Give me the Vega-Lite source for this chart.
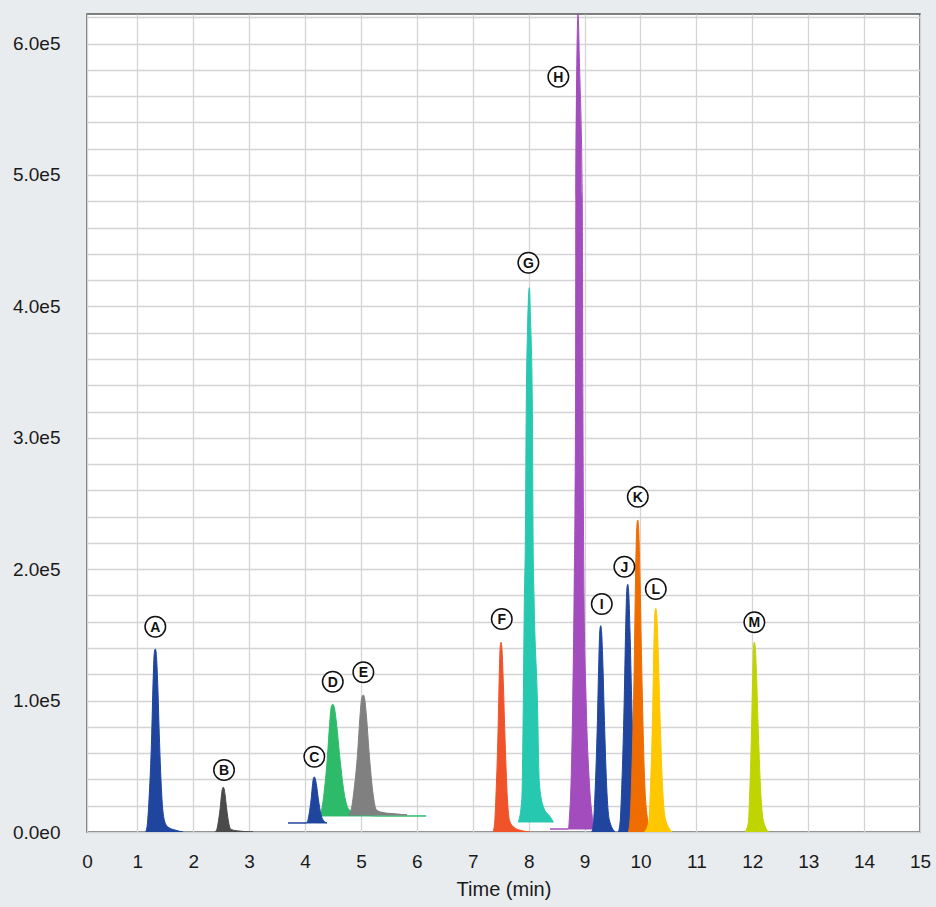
{
  "$schema": "https://vega.github.io/schema/vega-lite/v6.json",
  "width": 833,
  "height": 818,
  "autosize": {"type": "none"},
  "padding": {"left": 87, "top": 14, "right": 16, "bottom": 75},
  "background": "#e9ecef",
  "config": {
    "view": {"fill": "white", "stroke": "#555555", "strokeWidth": 1.5},
    "font": "Liberation Sans",
    "axis": {
      "ticks": false,
      "domain": false,
      "grid": true,
      "gridColor": "#d4d4d4",
      "gridWidth": 1.3,
      "labelFont": "Liberation Sans",
      "labelFontSize": 19,
      "labelColor": "#1a1a1a",
      "labelOverlap": false,
      "labelFlush": false,
      "titleFont": "Liberation Sans",
      "titleFontSize": 20,
      "titleFontWeight": "normal",
      "titleColor": "#1a1a1a"
    }
  },
  "datasets": {
    "peaks": [
      {"p":"A","t":1.150,"v":0,"b":0},{"p":"A","t":1.182,"v":7000,"b":0},{"p":"A","t":1.209,"v":24400,"b":0},{"p":"A","t":1.258,"v":75200,"b":0},{"p":"A","t":1.281,"v":112800,"b":0},{"p":"A","t":1.304,"v":136500,"b":0},{"p":"A","t":1.322,"v":139300,"b":0},{"p":"A","t":1.340,"v":135100,"b":0},{"p":"A","t":1.365,"v":112800,"b":0},{"p":"A","t":1.392,"v":75200,"b":0},{"p":"A","t":1.442,"v":24400,"b":0},{"p":"A","t":1.487,"v":8400,"b":0},{"p":"A","t":1.549,"v":3800,"b":0},{"p":"A","t":1.674,"v":1500,"b":0},{"p":"A","t":1.818,"v":0,"b":0},
      {"p":"B","t":2.388,"v":0,"b":0},{"p":"B","t":2.420,"v":1700,"b":0},{"p":"B","t":2.442,"v":5950,"b":0},{"p":"B","t":2.483,"v":18400,"b":0},{"p":"B","t":2.504,"v":27500,"b":0},{"p":"B","t":2.524,"v":33300,"b":0},{"p":"B","t":2.538,"v":34000,"b":0},{"p":"B","t":2.552,"v":33000,"b":0},{"p":"B","t":2.572,"v":27500,"b":0},{"p":"B","t":2.596,"v":18400,"b":0},{"p":"B","t":2.639,"v":5950,"b":0},{"p":"B","t":2.673,"v":2000,"b":0},{"p":"B","t":2.766,"v":1000,"b":0},{"p":"B","t":3.070,"v":0,"b":0},
      {"p":"D","t":4.215,"v":12200,"b":12200},{"p":"D","t":4.245,"v":12200,"b":12200},{"p":"D","t":4.295,"v":16450,"b":12200},{"p":"D","t":4.333,"v":27075,"b":12200},{"p":"D","t":4.402,"v":58100,"b":12200},{"p":"D","t":4.438,"v":81050,"b":12200},{"p":"D","t":4.470,"v":95500,"b":12200},{"p":"D","t":4.496,"v":97200,"b":12200},{"p":"D","t":4.524,"v":94650,"b":12200},{"p":"D","t":4.567,"v":81050,"b":12200},{"p":"D","t":4.619,"v":58100,"b":12200},{"p":"D","t":4.710,"v":27075,"b":12200},{"p":"D","t":4.782,"v":17300,"b":12200},{"p":"D","t":4.912,"v":14000,"b":12200},{"p":"D","t":5.342,"v":12200,"b":12200},{"p":"D","t":6.165,"v":12200,"b":12200},
      {"p":"E","t":4.775,"v":12950,"b":12950},{"p":"E","t":4.828,"v":17500,"b":12950},{"p":"E","t":4.868,"v":28930,"b":12950},{"p":"E","t":4.944,"v":62250,"b":12950},{"p":"E","t":4.981,"v":86900,"b":12950},{"p":"E","t":5.016,"v":102420,"b":12950},{"p":"E","t":5.043,"v":104250,"b":12950},{"p":"E","t":5.066,"v":101510,"b":12950},{"p":"E","t":5.101,"v":86900,"b":12950},{"p":"E","t":5.143,"v":62250,"b":12950},{"p":"E","t":5.217,"v":28930,"b":12950},{"p":"E","t":5.275,"v":17000,"b":12950},{"p":"E","t":5.377,"v":15000,"b":12950},{"p":"E","t":5.610,"v":13800,"b":12950},{"p":"E","t":5.825,"v":12950,"b":12950},
      {"p":"C","t":3.696,"v":6850,"b":6850},{"p":"C","t":4.018,"v":6850,"b":6850},{"p":"C","t":4.048,"v":8600,"b":6850},{"p":"C","t":4.070,"v":12975,"b":6850},{"p":"C","t":4.111,"v":25750,"b":6850},{"p":"C","t":4.132,"v":35200,"b":6850},{"p":"C","t":4.152,"v":41150,"b":6850},{"p":"C","t":4.166,"v":41850,"b":6850},{"p":"C","t":4.182,"v":40800,"b":6850},{"p":"C","t":4.207,"v":35200,"b":6850},{"p":"C","t":4.236,"v":25750,"b":6850},{"p":"C","t":4.287,"v":12975,"b":6850},{"p":"C","t":4.327,"v":8950,"b":6850},{"p":"C","t":4.394,"v":6850,"b":6850},
      {"p":"F","t":7.363,"v":0,"b":0},{"p":"F","t":7.392,"v":7220,"b":0},{"p":"F","t":7.413,"v":25270,"b":0},{"p":"F","t":7.453,"v":77980,"b":0},{"p":"F","t":7.473,"v":116960,"b":0},{"p":"F","t":7.492,"v":141500,"b":0},{"p":"F","t":7.506,"v":144400,"b":0},{"p":"F","t":7.521,"v":140070,"b":0},{"p":"F","t":7.544,"v":116960,"b":0},{"p":"F","t":7.572,"v":77980,"b":0},{"p":"F","t":7.620,"v":25270,"b":0},{"p":"F","t":7.658,"v":8660,"b":0},{"p":"F","t":7.739,"v":3500,"b":0},{"p":"F","t":7.864,"v":1200,"b":0},{"p":"F","t":8.025,"v":0,"b":0},
      {"p":"G","t":7.816,"v":7610,"b":7610},{"p":"G","t":7.877,"v":24350,"b":7610},{"p":"G","t":7.905,"v":100450,"b":7610},{"p":"G","t":7.923,"v":176550,"b":7610},{"p":"G","t":7.941,"v":222210,"b":7610},{"p":"G","t":7.957,"v":323400,"b":7610},{"p":"G","t":7.980,"v":382000,"b":7610},{"p":"G","t":8.012,"v":414200,"b":7610},{"p":"G","t":8.034,"v":389600,"b":7610},{"p":"G","t":8.066,"v":323400,"b":7610},{"p":"G","t":8.079,"v":222210,"b":7610},{"p":"G","t":8.097,"v":176550,"b":7610},{"p":"G","t":8.156,"v":100450,"b":7610},{"p":"G","t":8.191,"v":37290,"b":7610},{"p":"G","t":8.263,"v":19250,"b":7610},{"p":"G","t":8.383,"v":11640,"b":7610},{"p":"G","t":8.442,"v":7610,"b":7610},
      {"p":"H","t":8.383,"v":2280,"b":2280},{"p":"H","t":8.710,"v":2280,"b":2280},{"p":"H","t":8.732,"v":12940,"b":2280},{"p":"H","t":8.758,"v":37290,"b":2280},{"p":"H","t":8.789,"v":100450,"b":2280},{"p":"H","t":8.812,"v":176550,"b":2280},{"p":"H","t":8.839,"v":328750,"b":2280},{"p":"H","t":8.844,"v":480950,"b":2280},{"p":"H","t":8.862,"v":587500,"b":2280},{"p":"H","t":8.884,"v":622500,"b":2280},{"p":"H","t":8.907,"v":587500,"b":2280},{"p":"H","t":8.959,"v":480950,"b":2280},{"p":"H","t":8.970,"v":328750,"b":2280},{"p":"H","t":8.991,"v":176550,"b":2280},{"p":"H","t":9.027,"v":100450,"b":2280},{"p":"H","t":9.086,"v":37290,"b":2280},{"p":"H","t":9.134,"v":12940,"b":2280},{"p":"H","t":9.170,"v":2280,"b":2280},{"p":"H","t":9.188,"v":2280,"b":2280},
      {"p":"I","t":9.129,"v":0,"b":0},{"p":"I","t":9.161,"v":7850,"b":0},{"p":"I","t":9.185,"v":27475,"b":0},{"p":"I","t":9.230,"v":84780,"b":0},{"p":"I","t":9.253,"v":127170,"b":0},{"p":"I","t":9.274,"v":153860,"b":0},{"p":"I","t":9.290,"v":157000,"b":0},{"p":"I","t":9.305,"v":152290,"b":0},{"p":"I","t":9.328,"v":127170,"b":0},{"p":"I","t":9.355,"v":84780,"b":0},{"p":"I","t":9.404,"v":27475,"b":0},{"p":"I","t":9.442,"v":9420,"b":0},{"p":"I","t":9.546,"v":0,"b":0},
      {"p":"J","t":9.605,"v":0,"b":0},{"p":"J","t":9.639,"v":9425,"b":0},{"p":"J","t":9.664,"v":32990,"b":0},{"p":"J","t":9.710,"v":101790,"b":0},{"p":"J","t":9.734,"v":152690,"b":0},{"p":"J","t":9.756,"v":184730,"b":0},{"p":"J","t":9.773,"v":188500,"b":0},{"p":"J","t":9.789,"v":182850,"b":0},{"p":"J","t":9.813,"v":152690,"b":0},{"p":"J","t":9.842,"v":101790,"b":0},{"p":"J","t":9.894,"v":32990,"b":0},{"p":"J","t":9.934,"v":11310,"b":0},{"p":"J","t":10.011,"v":0,"b":0},
      {"p":"K","t":9.784,"v":0,"b":0},{"p":"K","t":9.818,"v":11870,"b":0},{"p":"K","t":9.843,"v":41550,"b":0},{"p":"K","t":9.889,"v":128210,"b":0},{"p":"K","t":9.912,"v":192320,"b":0},{"p":"K","t":9.935,"v":232680,"b":0},{"p":"K","t":9.952,"v":237430,"b":0},{"p":"K","t":9.968,"v":230310,"b":0},{"p":"K","t":9.992,"v":192320,"b":0},{"p":"K","t":10.021,"v":128210,"b":0},{"p":"K","t":10.072,"v":41550,"b":0},{"p":"K","t":10.113,"v":14250,"b":0},{"p":"K","t":10.190,"v":0,"b":0},
      {"p":"L","t":10.073,"v":0,"b":0},{"p":"L","t":10.152,"v":8510,"b":0},{"p":"L","t":10.175,"v":29790,"b":0},{"p":"L","t":10.218,"v":91930,"b":0},{"p":"L","t":10.238,"v":137890,"b":0},{"p":"L","t":10.258,"v":166840,"b":0},{"p":"L","t":10.274,"v":170240,"b":0},{"p":"L","t":10.291,"v":165130,"b":0},{"p":"L","t":10.317,"v":137890,"b":0},{"p":"L","t":10.347,"v":91930,"b":0},{"p":"L","t":10.401,"v":29790,"b":0},{"p":"L","t":10.444,"v":10210,"b":0},{"p":"L","t":10.565,"v":0,"b":0},
      {"p":"M","t":11.871,"v":0,"b":0},{"p":"M","t":11.930,"v":7220,"b":0},{"p":"M","t":11.950,"v":25260,"b":0},{"p":"M","t":11.987,"v":77950,"b":0},{"p":"M","t":12.007,"v":116930,"b":0},{"p":"M","t":12.024,"v":141470,"b":0},{"p":"M","t":12.037,"v":144360,"b":0},{"p":"M","t":12.054,"v":140030,"b":0},{"p":"M","t":12.078,"v":116930,"b":0},{"p":"M","t":12.107,"v":77950,"b":0},{"p":"M","t":12.158,"v":25260,"b":0},{"p":"M","t":12.198,"v":8660,"b":0},{"p":"M","t":12.292,"v":0,"b":0}
    ],
    "labels": [
      {"p":"A","t":1.322,"v":156230},
      {"p":"B","t":2.551,"v":47180},
      {"p":"C","t":4.166,"v":57300},
      {"p":"D","t":4.496,"v":114380},
      {"p":"E","t":5.043,"v":121530},
      {"p":"F","t":7.519,"v":162090},
      {"p":"G","t":7.995,"v":433240},
      {"p":"H","t":8.531,"v":574780},
      {"p":"I","t":9.308,"v":173510},
      {"p":"J","t":9.712,"v":201890},
      {"p":"K","t":9.952,"v":255160},
      {"p":"L","t":10.274,"v":184920},
      {"p":"M","t":12.037,"v":159580}
    ]
  },
  "layer": [
    {
      "data": {"name": "peaks"},
      "mark": {"type": "area", "interpolate": "monotone", "opacity": 1, "strokeWidth": 1, "clip": true},
      "encoding": {
        "x": {
          "field": "t", "type": "quantitative",
          "scale": {"domain": [0.1, 15], "nice": false, "zero": false},
          "axis": {
            "values": [0.1,1,2,3,4,5,6,7,8,9,10,11,12,13,14,15],
            "tickCount": 40,
            "labelExpr": "datum.value < 0.5 ? '0' : format(datum.value, 'd')",
            "title": "Time (min)",
            "labelPadding": 20,
            "titlePadding": 8,
            "labelOverlap": false
          }
        },
        "y": {
          "field": "v", "type": "quantitative",
          "scale": {"domain": [0, 622500], "nice": false},
          "axis": {
            "values": [0,20000,40000,60000,80000,100000,120000,140000,160000,180000,200000,220000,240000,260000,280000,300000,320000,340000,360000,380000,400000,420000,440000,460000,480000,500000,520000,540000,560000,580000,600000,620000],
            "tickCount": 60,
            "labelExpr": "datum.value % 100000 === 0 ? replace(format(datum.value, '.1e'), '+', '') : ''",
            "title": null,
            "labelPadding": 27,
            "labelOverlap": false,
            "labelBound": false
          }
        },
        "y2": {"field": "b"},
        "color": {
          "field": "p", "type": "nominal", "legend": null,
          "scale": {"domain": ["A","B","C","D","E","F","G","H","I","J","K","L","M"],
                    "range": ["#1f459e","#4a4a4a","#1f459e","#2dbb6a","#808080","#f0532a","#26c8b0","#a24cbd","#1f459e","#1f459e","#ef6c00","#ffc700","#bfd400"]}
        },
        "stroke": {
          "field": "p", "type": "nominal", "legend": null,
          "scale": {"domain": ["A","B","C","D","E","F","G","H","I","J","K","L","M"],
                    "range": ["#1f459e","#4a4a4a","#1f459e","#2dbb6a","#808080","#f0532a","#26c8b0","#a24cbd","#1f459e","#1f459e","#ef6c00","#ffc700","#bfd400"]}
        }
      }
    },
    {
      "data": {"name": "labels"},
      "mark": {"type": "point", "shape": "circle", "filled": true, "fill": "white", "stroke": "#111111", "strokeWidth": 1.5, "size": 420, "opacity": 1},
      "encoding": {
        "x": {"field": "t", "type": "quantitative"},
        "y": {"field": "v", "type": "quantitative"}
      }
    },
    {
      "data": {"name": "labels"},
      "mark": {"type": "text", "font": "Liberation Sans", "fontWeight": "bold", "fontSize": 14, "color": "#111111", "align": "center", "baseline": "middle", "dy": 1},
      "encoding": {
        "x": {"field": "t", "type": "quantitative"},
        "y": {"field": "v", "type": "quantitative"},
        "text": {"field": "p"}
      }
    }
  ]
}
